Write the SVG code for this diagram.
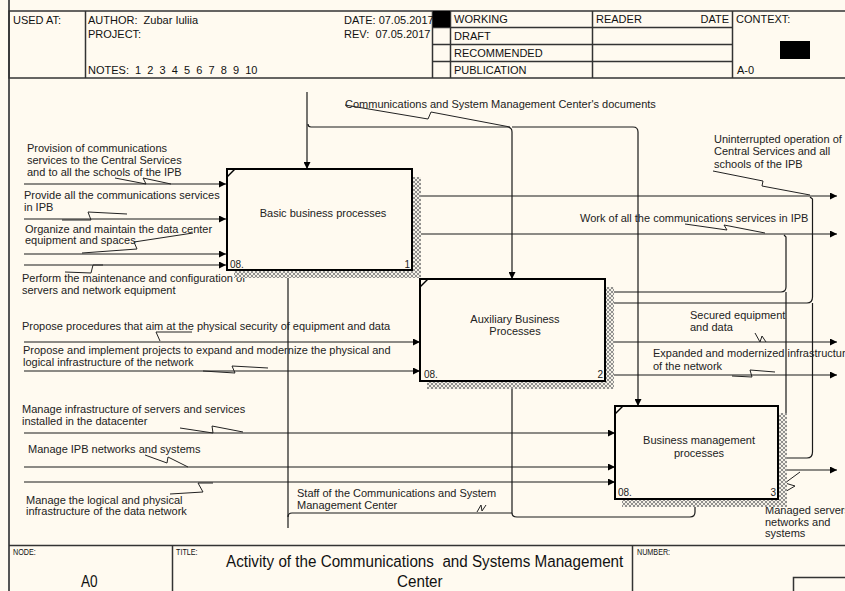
<svg xmlns="http://www.w3.org/2000/svg" width="845" height="591" viewBox="0 0 845 591">
  <defs>
    <style>
      .frame { fill: none; stroke: #333; stroke-width: 1.5; }
      .hdr { font-family: "Liberation Sans", Arial, sans-serif; font-size: 11px; fill: #111; }
      .lbl { font-family: "Liberation Sans", Arial, sans-serif; font-size: 11px; fill: #222; }
      .ttl { font-family: "Liberation Sans", Arial, sans-serif; font-size: 11px; fill: #222; text-anchor: middle; }
      .num { font-family: "Liberation Sans", Arial, sans-serif; font-size: 10px; fill: #222; }
      .box { fill: #fffaf0; stroke: #000; stroke-width: 2; }
      .shadow { fill: url(#hatch); }
      .conn { fill: none; stroke: #1a1a1a; stroke-width: 1.2; }
      .arrow { marker-end: url(#head); }
      .squig { fill: none; stroke: #222; stroke-width: 1; }
      .foot { font-family: "Liberation Sans", Arial, sans-serif; fill: #111; }
    </style>
    <pattern id="hatch" width="4" height="4" patternUnits="userSpaceOnUse">
      <rect width="4" height="4" fill="#f4f0e6"/>
      <path d="M0 0 L4 4 M4 0 L0 4" stroke="#777" stroke-width="0.8"/>
    </pattern>
    <marker id="head" viewBox="0 0 10 10" refX="10" refY="5" markerWidth="8" markerHeight="7" markerUnits="userSpaceOnUse" orient="auto">
      <path d="M0 0 L10 5 L0 10 Z" fill="#000"/>
    </marker>
  </defs>

  <rect width="845" height="591" fill="#fffaf0"/>

  <!-- page border and header form -->
  <g id="header">
    <line x1="9" y1="0" x2="9" y2="591" stroke="#555" stroke-width="2"/>
    <rect class="frame" x="9" y="11" width="840" height="67"/>
    <line class="frame" x1="85.5" y1="11" x2="85.5" y2="78"/>
    <line class="frame" x1="432.5" y1="11" x2="432.5" y2="78"/>
    <line class="frame" x1="450.5" y1="11" x2="450.5" y2="78"/>
    <line class="frame" x1="592.5" y1="11" x2="592.5" y2="78"/>
    <line class="frame" x1="732.5" y1="11" x2="732.5" y2="78"/>
    <line class="frame" x1="432.5" y1="27.5" x2="732.5" y2="27.5"/>
    <line class="frame" x1="432.5" y1="44.5" x2="732.5" y2="44.5"/>
    <line class="frame" x1="432.5" y1="61.5" x2="732.5" y2="61.5"/>
    <rect x="433" y="11" width="17" height="16" fill="#000"/>
    <rect x="780" y="41" width="30" height="18" fill="#000"/>
    <text class="hdr" x="13" y="24">USED AT:</text>
    <text class="hdr" x="88" y="24" xml:space="preserve">AUTHOR:  Zubar Iuliia</text>
    <text class="hdr" x="88" y="38">PROJECT:</text>
    <text class="hdr" x="88" y="74" xml:space="preserve">NOTES:  1  2  3  4  5  6  7  8  9  10</text>
    <text class="hdr" x="344" y="24">DATE: 07.05.2017</text>
    <text class="hdr" x="344" y="38" xml:space="preserve">REV:  07.05.2017</text>
    <text class="hdr" x="454" y="23">WORKING</text>
    <text class="hdr" x="454" y="40">DRAFT</text>
    <text class="hdr" x="454" y="57">RECOMMENDED</text>
    <text class="hdr" x="454" y="74">PUBLICATION</text>
    <text class="hdr" x="596" y="23">READER</text>
    <text class="hdr" x="729" y="23" text-anchor="end">DATE</text>
    <text class="hdr" x="736" y="23">CONTEXT:</text>
    <text class="hdr" x="737" y="74">A-0</text>
  </g>

  <!-- footer form -->
  <g id="footer">
    <line class="frame" x1="9" y1="545.5" x2="845" y2="545.5"/>
    <line class="frame" x1="172.5" y1="545.5" x2="172.5" y2="591"/>
    <line class="frame" x1="632.5" y1="545.5" x2="632.5" y2="591"/>
    <rect class="frame" x="793.5" y="577.5" width="55" height="20"/>
    <text class="foot" transform="translate(13 555) scale(0.8 1)" font-size="9">NODE:</text>
    <text class="foot" transform="translate(176 555) scale(0.8 1)" font-size="9">TITLE:</text>
    <text class="foot" transform="translate(637 555) scale(0.8 1)" font-size="9">NUMBER:</text>
    <text class="foot" transform="translate(81 587) scale(0.85 1)" font-size="16">A0</text>
    <text class="foot" transform="translate(226 567) scale(0.895 1)" font-size="17" xml:space="preserve">Activity of the Communications  and Systems Management</text>
    <text class="foot" transform="translate(397 587) scale(0.895 1)" font-size="17">Center</text>
  </g>

  <!-- connectors -->
  <g id="connectors">
    <!-- inputs of box 1 -->
    <path class="conn arrow" d="M24 184 H226"/>
    <path class="conn arrow" d="M24 219 H226"/>
    <path class="conn arrow" d="M24 254 H226"/>
    <path class="conn arrow" d="M24 265 H226"/>
    <!-- control and its branches -->
    <path class="conn arrow" d="M307 92 V169"/>
    <path class="conn arrow" d="M308 124 Q308 127 311 127 H507 Q512 127 512 132 V279"/>
    <path class="conn arrow" d="M512 127 H633 Q638 127 638 132 V406"/>
    <!-- outputs of box 1 -->
    <path class="conn arrow" d="M412 196 H837"/>
    <path class="conn arrow" d="M412 234 H837"/>
    <!-- inputs of box 2 -->
    <path class="conn arrow" d="M24 342 H420"/>
    <path class="conn arrow" d="M24 371 H420"/>
    <!-- outputs of box 2 -->
    <path class="conn" d="M613 292 H781 Q786 292 786 287 V237 L784 235"/>
    <path class="conn" d="M613 303 H807 Q812.5 303 812.5 297 V199 L810 197"/>
    <path class="conn arrow" d="M605 342 H837"/>
    <path class="conn arrow" d="M605 375 H837"/>
    <!-- inputs of box 3 -->
    <path class="conn arrow" d="M24 433 H615"/>
    <path class="conn arrow" d="M24 467 H615"/>
    <path class="conn arrow" d="M24 482 H615"/>
    <!-- outputs of box 3 -->
    <path class="conn" d="M779 449 Q786 449 786 442 V292"/>
    <path class="conn" d="M786 458 H807 Q812.5 458 812.5 452 V303"/>
    <path class="conn arrow" d="M778 470 H837"/>
    <!-- mechanisms -->
    <path class="conn arrow" d="M288 528 V271"/>
    <path class="conn arrow" d="M288 517 Q288 513 292 513 H512 V382"/>
    <path class="conn arrow" d="M512 513 Q512 517 517 517 H690 Q695 517 695 512 V500"/>

    <!-- label leaders -->
    <polyline class="squig" points="345,105 428,119 431,112 510,127"/>
    <polyline class="squig" points="115,178 146,184 143,178 171,184"/>
    <polyline class="squig" points="62,220 91,220 88,212 127,214"/>
    <polyline class="squig" points="82,253 137,249 134,242 193,233"/>
    <polyline class="squig" points="65,272 91,273 93,265 103,265"/>
    <polyline class="squig" points="192,332 156,332 160,341"/>
    <polyline class="squig" points="203,371 235,373 232,366 268,368"/>
    <polyline class="squig" points="180,428 213,433 212,426 243,432"/>
    <polyline class="squig" points="145,455 167,463 168,457 188,467"/>
    <polyline class="squig" points="170,494 203,492 198,483 213,483"/>
    <polyline class="squig" points="713,171 763,181 762,186 810,195"/>
    <polyline class="squig" points="685,224 727,230 724,225 765,233"/>
    <polyline class="squig" points="755,333 760,342 762,336 766,342"/>
    <polyline class="squig" points="732,376 752,377 750,370 775,372"/>
    <polyline class="squig" points="783,493 795,486 785,483 800,472"/>
    <polyline class="squig" points="477,512 481,505 482,511 486,505"/>
  </g>

  <!-- connector labels -->
  <g id="labels">
    <text class="lbl" x="345" y="108">Communications and System Management Center's documents</text>
    <text class="lbl" x="27" y="152">Provision of communications</text>
    <text class="lbl" x="27" y="164">services to the Central Services</text>
    <text class="lbl" x="27" y="176">and to all the schools of the IPB</text>
    <text class="lbl" x="24" y="199">Provide all the communications services</text>
    <text class="lbl" x="24" y="211">in IPB</text>
    <text class="lbl" x="25" y="233">Organize and maintain the data center</text>
    <text class="lbl" x="25" y="244">equipment and spaces</text>
    <text class="lbl" x="22" y="282">Perform the maintenance and configuration of</text>
    <text class="lbl" x="22" y="294">servers and network equipment</text>
    <text class="lbl" x="22" y="330">Propose procedures that aim at the physical security of equipment and data</text>
    <text class="lbl" x="23" y="354">Propose and implement projects to expand and modernize the physical and</text>
    <text class="lbl" x="23" y="366">logical infrastructure of the network</text>
    <text class="lbl" x="22" y="413">Manage infrastructure of servers and services</text>
    <text class="lbl" x="22" y="425">installed in the datacenter</text>
    <text class="lbl" x="28" y="453">Manage IPB networks and systems</text>
    <text class="lbl" x="26" y="504">Manage the logical and physical</text>
    <text class="lbl" x="26" y="515">infrastructure of the data network</text>
    <text class="lbl" x="297" y="497">Staff of the Communications and System</text>
    <text class="lbl" x="297" y="509">Management Center</text>
    <text class="lbl" x="714" y="143">Uninterrupted operation of</text>
    <text class="lbl" x="714" y="155">Central Services and all</text>
    <text class="lbl" x="714" y="168">schools of the IPB</text>
    <text class="lbl" x="580" y="222">Work of all the communications services in IPB</text>
    <text class="lbl" x="690" y="319">Secured equipment</text>
    <text class="lbl" x="690" y="331">and data</text>
    <text class="lbl" x="653" y="357">Expanded and modernized infrastructure</text>
    <text class="lbl" x="653" y="370">of the network</text>
    <text class="lbl" x="765" y="514">Managed servers</text>
    <text class="lbl" x="765" y="526">networks and</text>
    <text class="lbl" x="765" y="537">systems</text>
  </g>

  <!-- activity boxes -->
  <g id="box1">
    <rect class="shadow" x="413" y="177" width="8" height="101"/>
    <rect class="shadow" x="234" y="271" width="187" height="7"/>
    <rect class="box" x="227" y="169" width="185" height="101"/>
    <path d="M227 177 L235 169" stroke="#000" stroke-width="1.5"/>
    <text class="ttl" x="323" y="217">Basic business processes</text>
    <text class="num" x="230" y="268">08.</text>
    <text class="num" x="410" y="268" text-anchor="end">1</text>
  </g>
  <g id="box2">
    <rect class="shadow" x="606" y="287" width="8" height="102"/>
    <rect class="shadow" x="427" y="382" width="187" height="7"/>
    <rect class="box" x="420" y="279" width="185" height="102"/>
    <path d="M420 287 L428 279" stroke="#000" stroke-width="1.5"/>
    <text class="ttl" x="515" y="323">Auxiliary Business</text>
    <text class="ttl" x="515" y="335">Processes</text>
    <text class="num" x="424" y="378">08.</text>
    <text class="num" x="603" y="378" text-anchor="end">2</text>
  </g>
  <g id="box3">
    <rect class="shadow" x="779" y="413" width="8" height="94"/>
    <rect class="shadow" x="622" y="500" width="165" height="7"/>
    <rect class="box" x="615" y="406" width="163" height="93"/>
    <path d="M615 414 L623 406" stroke="#000" stroke-width="1.5"/>
    <text class="ttl" x="699" y="444">Business management</text>
    <text class="ttl" x="699" y="457">processes</text>
    <text class="num" x="618" y="496">08.</text>
    <text class="num" x="776" y="496" text-anchor="end">3</text>
  </g>
</svg>
